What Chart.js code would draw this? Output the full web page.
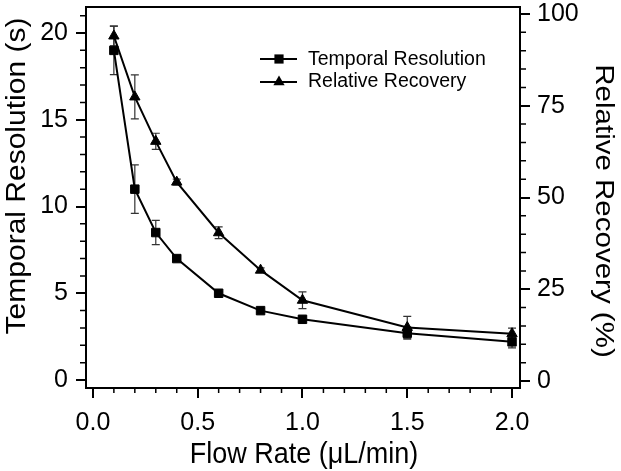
<!DOCTYPE html>
<html>
<head>
<meta charset="utf-8">
<script src="https://cdn.jsdelivr.net/npm/chart.js@4.4.0/dist/chart.umd.min.js"></script>
<style>
  html, body { margin: 0; padding: 0; background: #fff; }
</style>
</head>
<body>
<canvas id="flow-chart" width="621" height="471"></canvas>
<script>
const flowRate = [0.1, 0.2, 0.3, 0.4, 0.6, 0.8, 1.0, 1.5, 2.0];
const temporalRes = [19.0, 11.0, 8.5, 7.0, 5.0, 4.0, 3.5, 2.7, 2.2];
const temporalErr = [1.4, 1.4, 0.7, 0.15, 0.1, 0.1, 0.15, 0.35, 0.35];
const recovery = [94.0, 77.4, 65.3, 54.2, 40.4, 30.2, 22.0, 14.6, 12.9];
const recoveryErr = [2.7, 6.0, 2.2, 0.8, 1.6, 0.6, 2.3, 3.0, 1.5];

const xTicks = [0, 0.5, 1.0, 1.5, 2.0];
const leftTicks = [0, 5, 10, 15, 20];
const rightTicks = [0, 25, 50, 75, 100];

const FONT = "'Liberation Sans', Arial, Helvetica, sans-serif";

function points(ys) {
  return flowRate.map((x, i) => ({ x: x, y: ys[i] }));
}

function drawMarker(ctx, style, x, y, r) {
  ctx.beginPath();
  if (style === 'rect') {
    const s = Math.SQRT1_2 * r;
    ctx.rect(x - s, y - s, 2 * s, 2 * s);
  } else {
    let rad = 0;
    ctx.moveTo(x + Math.sin(rad) * r, y - Math.cos(rad) * r);
    rad += 2 * Math.PI / 3;
    ctx.lineTo(x + Math.sin(rad) * r, y - Math.cos(rad) * r);
    rad += 2 * Math.PI / 3;
    ctx.lineTo(x + Math.sin(rad) * r, y - Math.cos(rad) * r);
    ctx.closePath();
  }
  ctx.fill();
}

const extras = {
  id: 'extras',
  beforeDatasetsDraw(chart) {
    const { ctx, chartArea: a, scales } = chart;
    ctx.save();
    ctx.strokeStyle = '#000';
    ctx.lineWidth = 2;
    ctx.strokeRect(a.left, a.top, a.right - a.left, a.bottom - a.top);

    // minor ticks
    ctx.lineWidth = 1.5;
    ctx.beginPath();
    for (let v = 1; v <= 21; v++) {
      if (v % 5 === 0) continue;
      const y = scales.y.getPixelForValue(v);
      ctx.moveTo(a.left - 6, y); ctx.lineTo(a.left, y);
    }
    for (let v = 5; v < 100; v += 5) {
      if (v % 25 === 0) continue;
      const y = scales.y1.getPixelForValue(v);
      ctx.moveTo(a.right, y); ctx.lineTo(a.right + 6, y);
    }
    for (let k = 1; k < 20; k++) {
      if (k % 5 === 0) continue;
      const x = scales.x.getPixelForValue(k / 10);
      ctx.moveTo(x, a.bottom); ctx.lineTo(x, a.bottom + 5);
    }
    ctx.stroke();

    // error bars
    ctx.strokeStyle = '#333';
    ctx.lineWidth = 1.2;
    const sets = [[temporalRes, temporalErr, scales.y], [recovery, recoveryErr, scales.y1]];
    sets.forEach(([vals, errs, ys]) => {
      ctx.beginPath();
      flowRate.forEach((fx, i) => {
        const x = scales.x.getPixelForValue(fx);
        const hi = ys.getPixelForValue(vals[i] + errs[i]);
        const lo = ys.getPixelForValue(vals[i] - errs[i]);
        ctx.moveTo(x, hi); ctx.lineTo(x, lo);
        ctx.moveTo(x - 4, hi); ctx.lineTo(x + 4, hi);
        ctx.moveTo(x - 4, lo); ctx.lineTo(x + 4, lo);
      });
      ctx.stroke();
    });
    ctx.restore();
  },
  afterDraw(chart) {
    const { ctx } = chart;
    ctx.save();
    ctx.fillStyle = '#000';

    // axis titles
    ctx.textAlign = 'center';
    ctx.textBaseline = 'alphabetic';
    ctx.font = '27px ' + FONT;
    ctx.save();
    ctx.translate(304, 463);
    ctx.scale(1, 1.08);
    ctx.fillText('Flow Rate (\u03bcL/min)', 0, 0);
    ctx.restore();

    ctx.font = '30px ' + FONT;
    ctx.save();
    ctx.translate(25, 176);
    ctx.rotate(-Math.PI / 2);
    ctx.scale(1, 0.9);
    ctx.fillText('Temporal Resolution (s)', 0, 0);
    ctx.restore();

    ctx.font = '29.5px ' + FONT;
    ctx.save();
    ctx.translate(596, 211);
    ctx.rotate(Math.PI / 2);
    ctx.scale(1, 0.9);
    ctx.fillText('Relative Recovery (%)', 0, 0);
    ctx.restore();

    // legend
    const rows = [[59, 65], [82, 87]];
    chart.data.datasets.forEach((ds, i) => {
      const [ly, ty] = rows[i];
      ctx.strokeStyle = '#000';
      ctx.lineWidth = 2;
      ctx.beginPath();
      ctx.moveTo(260, ly); ctx.lineTo(297, ly);
      ctx.stroke();
      drawMarker(ctx, ds.pointStyle, 279, ly, 6.5);
      ctx.font = '19.5px ' + FONT;
      ctx.textAlign = 'left';
      ctx.fillText(ds.label, 308, ty);
    });
    ctx.restore();
  }
};

const tickFont = { family: FONT, size: 25 };

const config = {
  type: 'line',
  data: {
    datasets: [{
      label: 'Temporal Resolution',
      data: points(temporalRes),
      yAxisID: 'y',
      borderColor: '#000',
      backgroundColor: '#000',
      borderWidth: 2,
      pointStyle: 'rect',
      pointRadius: 6,
      pointBorderWidth: 1,
      tension: 0,
    }, {
      label: 'Relative Recovery',
      data: points(recovery),
      yAxisID: 'y1',
      borderColor: '#000',
      backgroundColor: '#000',
      borderWidth: 2,
      pointStyle: 'triangle',
      pointRadius: 6,
      pointBorderWidth: 1,
      tension: 0,
    }]
  },
  options: {
    responsive: false,
    animation: false,
    layout: { padding: { top: 6, left: 0, right: 0, bottom: 0 } },
    scales: {
      x: {
        type: 'linear',
        min: -0.033,
        max: 2.038,
        afterBuildTicks: s => { s.ticks = xTicks.map(v => ({ value: v })); },
        afterFit: s => { s.height = 83; s.paddingLeft = 0; s.paddingRight = 0; },
        ticks: {
          callback: v => Number(v).toFixed(1),
          font: tickFont,
          color: '#000',
          padding: 10,
          maxRotation: 0,
          autoSkip: false,
        },
        grid: { drawOnChartArea: false, tickLength: 10, color: '#000', lineWidth: 2 },
        border: { color: '#000', width: 2 },
      },
      y: {
        position: 'left',
        min: -0.46,
        max: 21.5,
        afterBuildTicks: s => { s.ticks = leftTicks.map(v => ({ value: v })); },
        afterFit: s => { s.width = 86; s.paddingTop = 0; s.paddingBottom = 0; },
        ticks: { font: tickFont, color: '#000', padding: 8 },
        grid: { drawOnChartArea: false, tickLength: 10, color: '#000', lineWidth: 2 },
        border: { color: '#000', width: 2 },
      },
      y1: {
        position: 'right',
        min: -1.9,
        max: 101.9,
        afterBuildTicks: s => { s.ticks = rightTicks.map(v => ({ value: v })); },
        afterFit: s => { s.width = 101; s.paddingTop = 0; s.paddingBottom = 0; },
        ticks: { font: tickFont, color: '#000', padding: 7 },
        grid: { drawOnChartArea: false, tickLength: 10, color: '#000', lineWidth: 2 },
        border: { color: '#000', width: 2 },
      }
    },
    plugins: {
      legend: { display: false },
      tooltip: { enabled: false },
    }
  },
  plugins: [extras],
};

const myChart = new Chart(document.getElementById('flow-chart'), config);
</script>
</body>
</html>
